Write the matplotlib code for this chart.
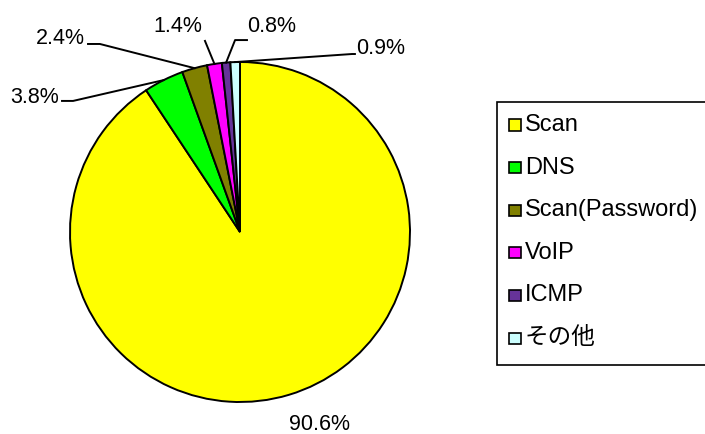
import numpy as np
import matplotlib
matplotlib.use("Agg")
import matplotlib.pyplot as plt
from matplotlib.patches import Rectangle

plt.rcParams['font.family'] = ['Liberation Sans', 'Noto Sans CJK JP', 'DejaVu Sans']

categories = ["Scan", "DNS", "Scan(Password)", "VoIP", "ICMP", "その他"]
shares = [90.6, 3.8, 2.4, 1.4, 0.8, 0.9]
pct_labels = ["90.6%", "3.8%", "2.4%", "1.4%", "0.8%", "0.9%"]
colors = ["#FFFF00", "#00FF00", "#808000", "#FF00FF", "#663399", "#CCFFFF"]

W, H = 705, 434
fig = plt.figure(figsize=(W / 100, H / 100), dpi=100)

# pie axes: centre (240, 232) px from top-left, radius 170 px
cx, cy, r = 240, 232, 170
ax = fig.add_axes([(cx - r) / W, (H - cy - r) / H, 2 * r / W, 2 * r / H])
wedges, _ = ax.pie(shares, colors=colors, startangle=90, counterclock=False,
                   wedgeprops=dict(edgecolor="black", linewidth=1.4))
ax.set_xlim(-1, 1)
ax.set_ylim(-1, 1)
ax.axis("off")

# label positions (data coords), and leader line start / elbow
label_pos = [(0.47, -1.135), (-1.206, 0.794), (-1.059, 1.141),
             (-0.365, 1.206), (0.188, 1.206), (0.829, 1.082)]
leaders = [None,
           [(-1.047, 0.771), (-0.982, 0.771)],
           [(-0.894, 1.106), (-0.824, 1.106)],
           [(-0.206, 1.124)],
           [(0.041, 1.129), (-0.029, 1.129)],
           [(0.676, 1.047), (0.659, 1.047)]]

for w, txt, pos, lead in zip(wedges, pct_labels, label_pos, leaders):
    ax.text(pos[0], pos[1], txt, ha="center", va="center", fontsize=15.5, clip_on=False)
    if lead is None:
        continue
    mid = np.deg2rad((w.theta1 + w.theta2) / 2)
    pts = lead + [(np.cos(mid), np.sin(mid))]
    xs, ys = zip(*pts)
    ax.plot(xs, ys, color="black", linewidth=1.4, clip_on=False)

# legend drawn by hand
fig.patches.append(Rectangle((497 / W, 1 - 365 / H), 220 / W, (365 - 102) / H,
                             transform=fig.transFigure, facecolor="white",
                             edgecolor="black", linewidth=1.2))
for i, (name, c) in enumerate(zip(categories, colors)):
    yc = 125 + i * 42.6
    fig.patches.append(Rectangle((509 / W, 1 - (yc + 5.5) / H), 12 / W, 11 / H,
                                 transform=fig.transFigure, facecolor=c,
                                 edgecolor="black", linewidth=1.2))
    fig.text(525 / W, 1 - yc / H, name, ha="left", va="center", fontsize=17)

fig.savefig("out.png", dpi=100)
